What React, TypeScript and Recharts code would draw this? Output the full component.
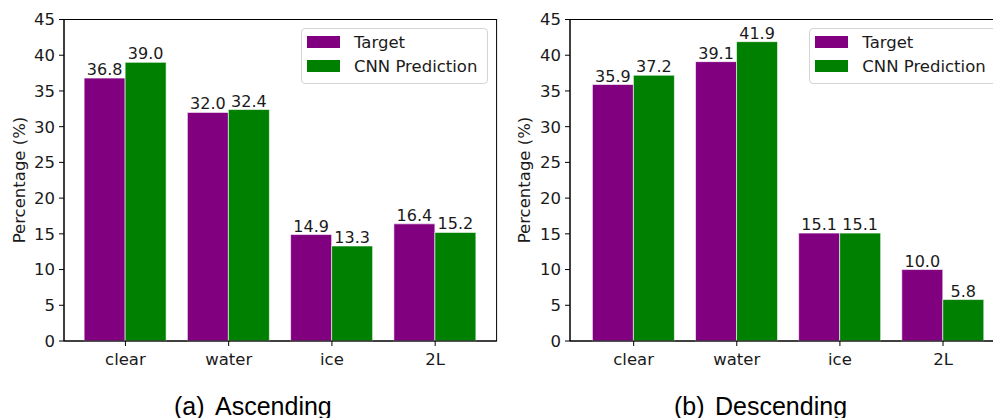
import React from 'react';
import * as Recharts from 'recharts';
import { BarChart, Bar, XAxis, YAxis, LabelList, Legend, Label } from 'recharts';

const categories = ['clear', 'water', 'ice', '2L'];
const ascendingTarget = [36.8, 32.0, 14.9, 16.4];
const ascendingPrediction = [39.0, 32.4, 13.3, 15.2];
const descendingTarget = [35.9, 39.1, 15.1, 10.0];
const descendingPrediction = [37.2, 41.9, 15.1, 5.8];
const yTicks = [0, 5, 10, 15, 20, 25, 30, 35, 40, 45];
const seriesNames = ['Target', 'CNN Prediction'];
const seriesColors = ['#800080', '#008000'];
const yAxisTitle = 'Percentage (%)';
const captions = [
  { tag: '(a)', text: 'Ascending' },
  { tag: '(b)', text: 'Descending' },
];

const build = (t: number[], p: number[]) =>
  categories.map((c, i) => ({ category: c, target: t[i], prediction: p[i] }));

const ascendingData = build(ascendingTarget, ascendingPrediction);
const descendingData = build(descendingTarget, descendingPrediction);

const FONT = 'DejaVu Sans, Verdana, sans-serif';
const TEXT = '#1a1a1a';

const usePlotAreaHook: any = (Recharts as any).usePlotArea;
const CustomizedComp: any = (Recharts as any).Customized;

const FrameWithHook = () => {
  const area = usePlotAreaHook();
  if (!area) return null;
  return (
    <rect
      x={area.x}
      y={area.y}
      width={area.width}
      height={area.height}
      fill="none"
      stroke="#000"
      strokeWidth={1}
    />
  );
};

const frameFromProps = (props: any) => {
  const off = props && props.offset;
  if (!off) return null;
  return (
    <rect
      x={off.left}
      y={off.top}
      width={off.width}
      height={off.height}
      fill="none"
      stroke="#000"
      strokeWidth={1}
    />
  );
};

const Frame = () =>
  usePlotAreaHook ? <FrameWithHook /> : CustomizedComp ? <CustomizedComp component={frameFromProps} /> : null;

const LegendBox = () => (
  <div
    style={{
      position: 'relative',
      width: 187,
      height: 56,
      border: '1px solid #d4d4d4',
      borderRadius: 4,
      background: 'rgba(255,255,255,0.85)',
      boxSizing: 'border-box',
      fontFamily: FONT,
      fontSize: 16.5,
      color: TEXT,
    }}
  >
    {seriesNames.map((name, i) => (
      <React.Fragment key={name}>
        <div
          style={{
            position: 'absolute',
            left: 5,
            top: 7 + i * 24,
            width: 33,
            height: 11.5,
            background: seriesColors[i],
          }}
        />
        <div
          style={{
            position: 'absolute',
            left: 52,
            top: 6 + i * 24,
            lineHeight: '16.5px',
            whiteSpace: 'nowrap',
          }}
        >
          {name}
        </div>
      </React.Fragment>
    ))}
  </div>
);

type PanelProps = {
  data: { category: string; target: number; prediction: number }[];
  width: number;
  marginLeft: number;
  marginRight: number;
  pad: number;
  legendLeft: number;
  labelX: number;
};

const Panel = ({ data, width, marginLeft, marginRight, pad, legendLeft, labelX }: PanelProps) => (
  <BarChart
    width={width}
    height={418}
    data={data}
    margin={{ top: 19.5, right: marginRight, bottom: 47, left: marginLeft }}
    barGap={0}
    barCategoryGap="10%"
    style={{ fontFamily: FONT }}
  >
    <XAxis
      dataKey="category"
      padding={{ left: pad, right: pad }}
      height={30}
      tickSize={5}
      tickMargin={7}
      axisLine={{ stroke: '#000', strokeWidth: 1 }}
      tickLine={{ stroke: '#000', strokeWidth: 1 }}
      tick={{ fill: TEXT, fontSize: 16.5, fontFamily: FONT }}
      interval={0}
    />
    <YAxis
      domain={[0, 45]}
      ticks={yTicks}
      width={50}
      tickSize={5}
      tickMargin={4}
      interval={0}
      axisLine={{ stroke: '#000', strokeWidth: 1 }}
      tickLine={{ stroke: '#000', strokeWidth: 1 }}
      tick={{ fill: TEXT, fontSize: 16.5, fontFamily: FONT }}
    >
      <Label
        content={() => (
          <text
            x={labelX}
            y={180}
            transform={`rotate(-90, ${labelX}, 180)`}
            textAnchor="middle"
            dominantBaseline="central"
            fill={TEXT}
            fontSize={16.5}
            fontFamily={FONT}
          >
            {yAxisTitle}
          </text>
        )}
      />
    </YAxis>
    <Legend
      layout="vertical"
      align="center"
      verticalAlign="middle"
      content={<LegendBox />}
      wrapperStyle={{ left: legendLeft, top: 28, width: 187, height: 56 }}
    />
    <Bar
      dataKey="target"
      name={seriesNames[0]}
      fill={seriesColors[0]}
      stroke="#ffffff"
      strokeWidth={0.6}
      isAnimationActive={false}
    >
      <LabelList
        dataKey="target"
        position="top"
        offset={3}
        formatter={(v: number) => v.toFixed(1)}
        fill={TEXT}
        fontSize={16}
        fontFamily={FONT}
      />
    </Bar>
    <Bar
      dataKey="prediction"
      name={seriesNames[1]}
      fill={seriesColors[1]}
      stroke="#ffffff"
      strokeWidth={0.6}
      isAnimationActive={false}
    >
      <LabelList
        dataKey="prediction"
        position="top"
        offset={3}
        formatter={(v: number) => v.toFixed(1)}
        fill={TEXT}
        fontSize={16}
        fontFamily={FONT}
      />
    </Bar>
    <Frame />
  </BarChart>
);

const captionStyle: React.CSSProperties = {
  position: 'absolute',
  top: 394,
  fontFamily: 'Liberation Sans, Arial, Helvetica, sans-serif',
  fontSize: 25,
  lineHeight: '25px',
  color: '#000',
  whiteSpace: 'nowrap',
};

export default function App() {
  return (
    <div
      style={{
        position: 'absolute',
        left: 0,
        top: 0,
        width: 993,
        height: 418,
        overflow: 'hidden',
        background: '#fff',
      }}
    >
      <div style={{ position: 'absolute', left: 0, top: 0 }}>
        <Panel
          data={ascendingData}
          width={520}
          marginLeft={14}
          marginRight={23.4}
          pad={9.8}
          legendLeft={301}
          labelX={19.5}
        />
      </div>
      <div style={{ position: 'absolute', left: 500, top: 0 }}>
        <Panel
          data={descendingData}
          width={540}
          marginLeft={20}
          marginRight={33.3}
          pad={12.1}
          legendLeft={309.3}
          labelX={24.5}
        />
      </div>
      <span style={{ ...captionStyle, left: 174 }}>{captions[0].tag}</span>
      <span style={{ ...captionStyle, left: 215 }}>{captions[0].text}</span>
      <span style={{ ...captionStyle, left: 674 }}>{captions[1].tag}</span>
      <span style={{ ...captionStyle, left: 715 }}>{captions[1].text}</span>
    </div>
  );
}
